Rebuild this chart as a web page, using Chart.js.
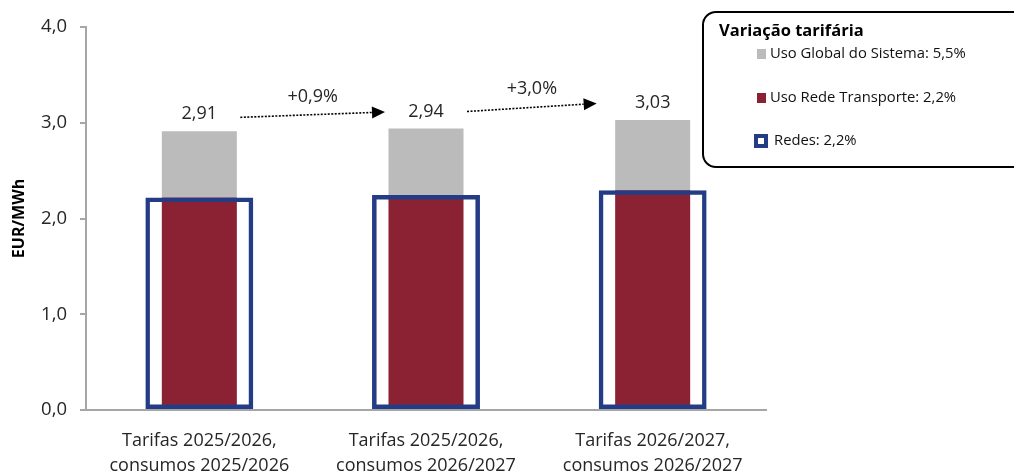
<!DOCTYPE html>
<html>
<head>
<meta charset="utf-8">
<script src="https://cdn.jsdelivr.net/npm/chart.js@4/dist/chart.umd.min.js"></script>
<style>
html,body{margin:0;padding:0;background:#fff;}
#wrap{width:1014px;height:473px;position:relative;}
</style>
</head>
<body>
<div id="wrap"><canvas id="c" width="1014" height="473"></canvas></div>
<script>
const categories = [
  ["Tarifas 2025/2026,", "consumos 2025/2026"],
  ["Tarifas 2025/2026,", "consumos 2026/2027"],
  ["Tarifas 2026/2027,", "consumos 2026/2027"]
];
const redes = [2.22, 2.245, 2.295];
const usoGlobal = [0.69, 0.695, 0.735];
const totals = [2.91, 2.94, 3.03];
const totalLabels = ["2,91", "2,94", "3,03"];
const changeLabels = ["+0,9%", "+3,0%"];
const yTickValues = [0, 1, 2, 3, 4];
const yTickLabels = ["0,0", "1,0", "2,0", "3,0", "4,0"];
const legendTitle = "Variação tarifária";
const legendLabels = ["Uso Global do Sistema: 5,5%", "Uso Rede Transporte: 2,2%", "Redes: 2,2%"];
const yAxisTitle = "EUR/MWh";

const GRAY = "#BBBBBB", RED = "#8B2233", BLUE = "#243C86", TXT = "#262626", AXIS = "#A6A6A6";
const FONT = "'Open Sans', sans-serif";

const annotations = {
  id: "annotations",
  afterDatasetsDraw(chart) {
    const ctx = chart.ctx, x = chart.scales.x, y = chart.scales.y;
    ctx.save();
    ctx.fillStyle = TXT;
    ctx.font = "18px " + FONT;
    ctx.textAlign = "center";
    ctx.textBaseline = "middle";
    totals.forEach((t, i) => {
      ctx.fillText(totalLabels[i], x.getPixelForValue(i), y.getPixelForValue(t) - 17);
    });
    const endOff = [41, 56];
    changeLabels.forEach((lab, i) => {
      const x1 = x.getPixelForValue(i) + 41;
      const y1 = y.getPixelForValue(totals[i]) - 14 - i * 3;
      const x2 = x.getPixelForValue(i + 1) - endOff[i];
      const y2 = y.getPixelForValue(totals[i + 1]) - 16.5;
      const ang = Math.atan2(y2 - y1, x2 - x1);
      const hl = 13, hw = 6;
      const bx = x2 - hl * Math.cos(ang), by = y2 - hl * Math.sin(ang);
      ctx.strokeStyle = "#000";
      ctx.lineWidth = 1.6;
      ctx.setLineDash([2, 1.5]);
      ctx.beginPath();
      ctx.moveTo(x1, y1);
      ctx.lineTo(bx, by);
      ctx.stroke();
      ctx.setLineDash([]);
      ctx.fillStyle = "#000";
      ctx.beginPath();
      ctx.moveTo(x2, y2);
      ctx.lineTo(bx - hw * Math.sin(ang), by + hw * Math.cos(ang));
      ctx.lineTo(bx + hw * Math.sin(ang), by - hw * Math.cos(ang));
      ctx.closePath();
      ctx.fill();
      ctx.fillStyle = TXT;
      ctx.font = "18px " + FONT;
      ctx.fillText(lab, (x1 + x2) / 2, Math.min(y1, y2) - 15);
    });
    const bx0 = 703, by0 = 12, bw = 340, bh = 155, r = 13;
    ctx.strokeStyle = "#000";
    ctx.lineWidth = 2;
    ctx.beginPath();
    ctx.roundRect(bx0, by0, bw, bh, r);
    ctx.fillStyle = "#fff";
    ctx.fill();
    ctx.stroke();
    ctx.fillStyle = "#000";
    ctx.textAlign = "left";
    ctx.font = "bold 16.5px " + FONT;
    ctx.fillText(legendTitle, 719, 31);
    ctx.font = "14.8px " + FONT;
    const rows = [54, 98, 141];
    ctx.fillStyle = GRAY; ctx.fillRect(757, rows[0] - 5, 9, 10);
    ctx.fillStyle = RED; ctx.fillRect(757, rows[1] - 5, 9, 10);
    ctx.fillStyle = BLUE; ctx.fillRect(754, rows[2] - 7, 14, 14);
    ctx.fillStyle = "#fff"; ctx.fillRect(758, rows[2] - 3, 6, 6);
    ctx.fillStyle = "#111";
    ctx.fillText(legendLabels[0], 770, rows[0]);
    ctx.fillText(legendLabels[1], 770, rows[1]);
    ctx.fillText(legendLabels[2], 774, rows[2]);
    ctx.restore();
  }
};

new Chart(document.getElementById("c"), {
  type: "bar",
  data: {
    labels: categories,
    datasets: [
      {
        label: "Redes",
        data: redes,
        xAxisID: "x2",
        backgroundColor: "rgba(0,0,0,0)",
        borderColor: BLUE,
        borderWidth: 4.5,
        borderSkipped: false,
        grouped: false,
        categoryPercentage: 1,
        barPercentage: 0.476,
        order: 0
      },
      {
        label: "Uso Rede Transporte",
        data: redes,
        xAxisID: "x",
        backgroundColor: RED,
        grouped: false,
        categoryPercentage: 1,
        barPercentage: 0.331,
        stack: "s",
        order: 1
      },
      {
        label: "Uso Global do Sistema",
        data: usoGlobal,
        xAxisID: "x",
        backgroundColor: GRAY,
        grouped: false,
        categoryPercentage: 1,
        barPercentage: 0.331,
        stack: "s",
        order: 1
      }
    ]
  },
  options: {
    responsive: false,
    animation: false,
    layout: { padding: { left: 0, right: 248, top: 27, bottom: 0 } },
    plugins: { legend: { display: false }, tooltip: { enabled: false } },
    scales: {
      x: {
        stacked: true,
        offset: true,
        grid: { display: false },
        border: { display: true, color: AXIS, width: 2 },
        ticks: { color: TXT, font: { family: FONT, size: 18, lineHeight: 1.42 }, padding: 10, maxRotation: 0 },
        afterFit(s) { s.height = 63; }
      },
      x2: {
        type: "category",
        labels: categories,
        display: false,
        offset: true,
        stacked: false,
        grid: { display: false }
      },
      y: {
        stacked: true,
        min: 0, max: 4,
        afterBuildTicks(s) { s.ticks = yTickValues.map(v => ({ value: v })); },
        grid: { drawOnChartArea: false, drawTicks: true, tickLength: 6, color: AXIS, lineWidth: 2 },
        border: { display: true, color: AXIS, width: 2 },
        ticks: {
          color: TXT, padding: 13,
          font: { family: FONT, size: 18.5 },
          callback(v) { return yTickLabels[yTickValues.indexOf(v)]; }
        },
        title: { display: true, text: yAxisTitle, color: "#000", font: { family: FONT, size: 16, weight: "bold" }, padding: { top: 10, bottom: 0 } },
        afterFit(s) { s.width = 86; }
      }
    }
  },
  plugins: [annotations]
});
</script>
</body>
</html>
